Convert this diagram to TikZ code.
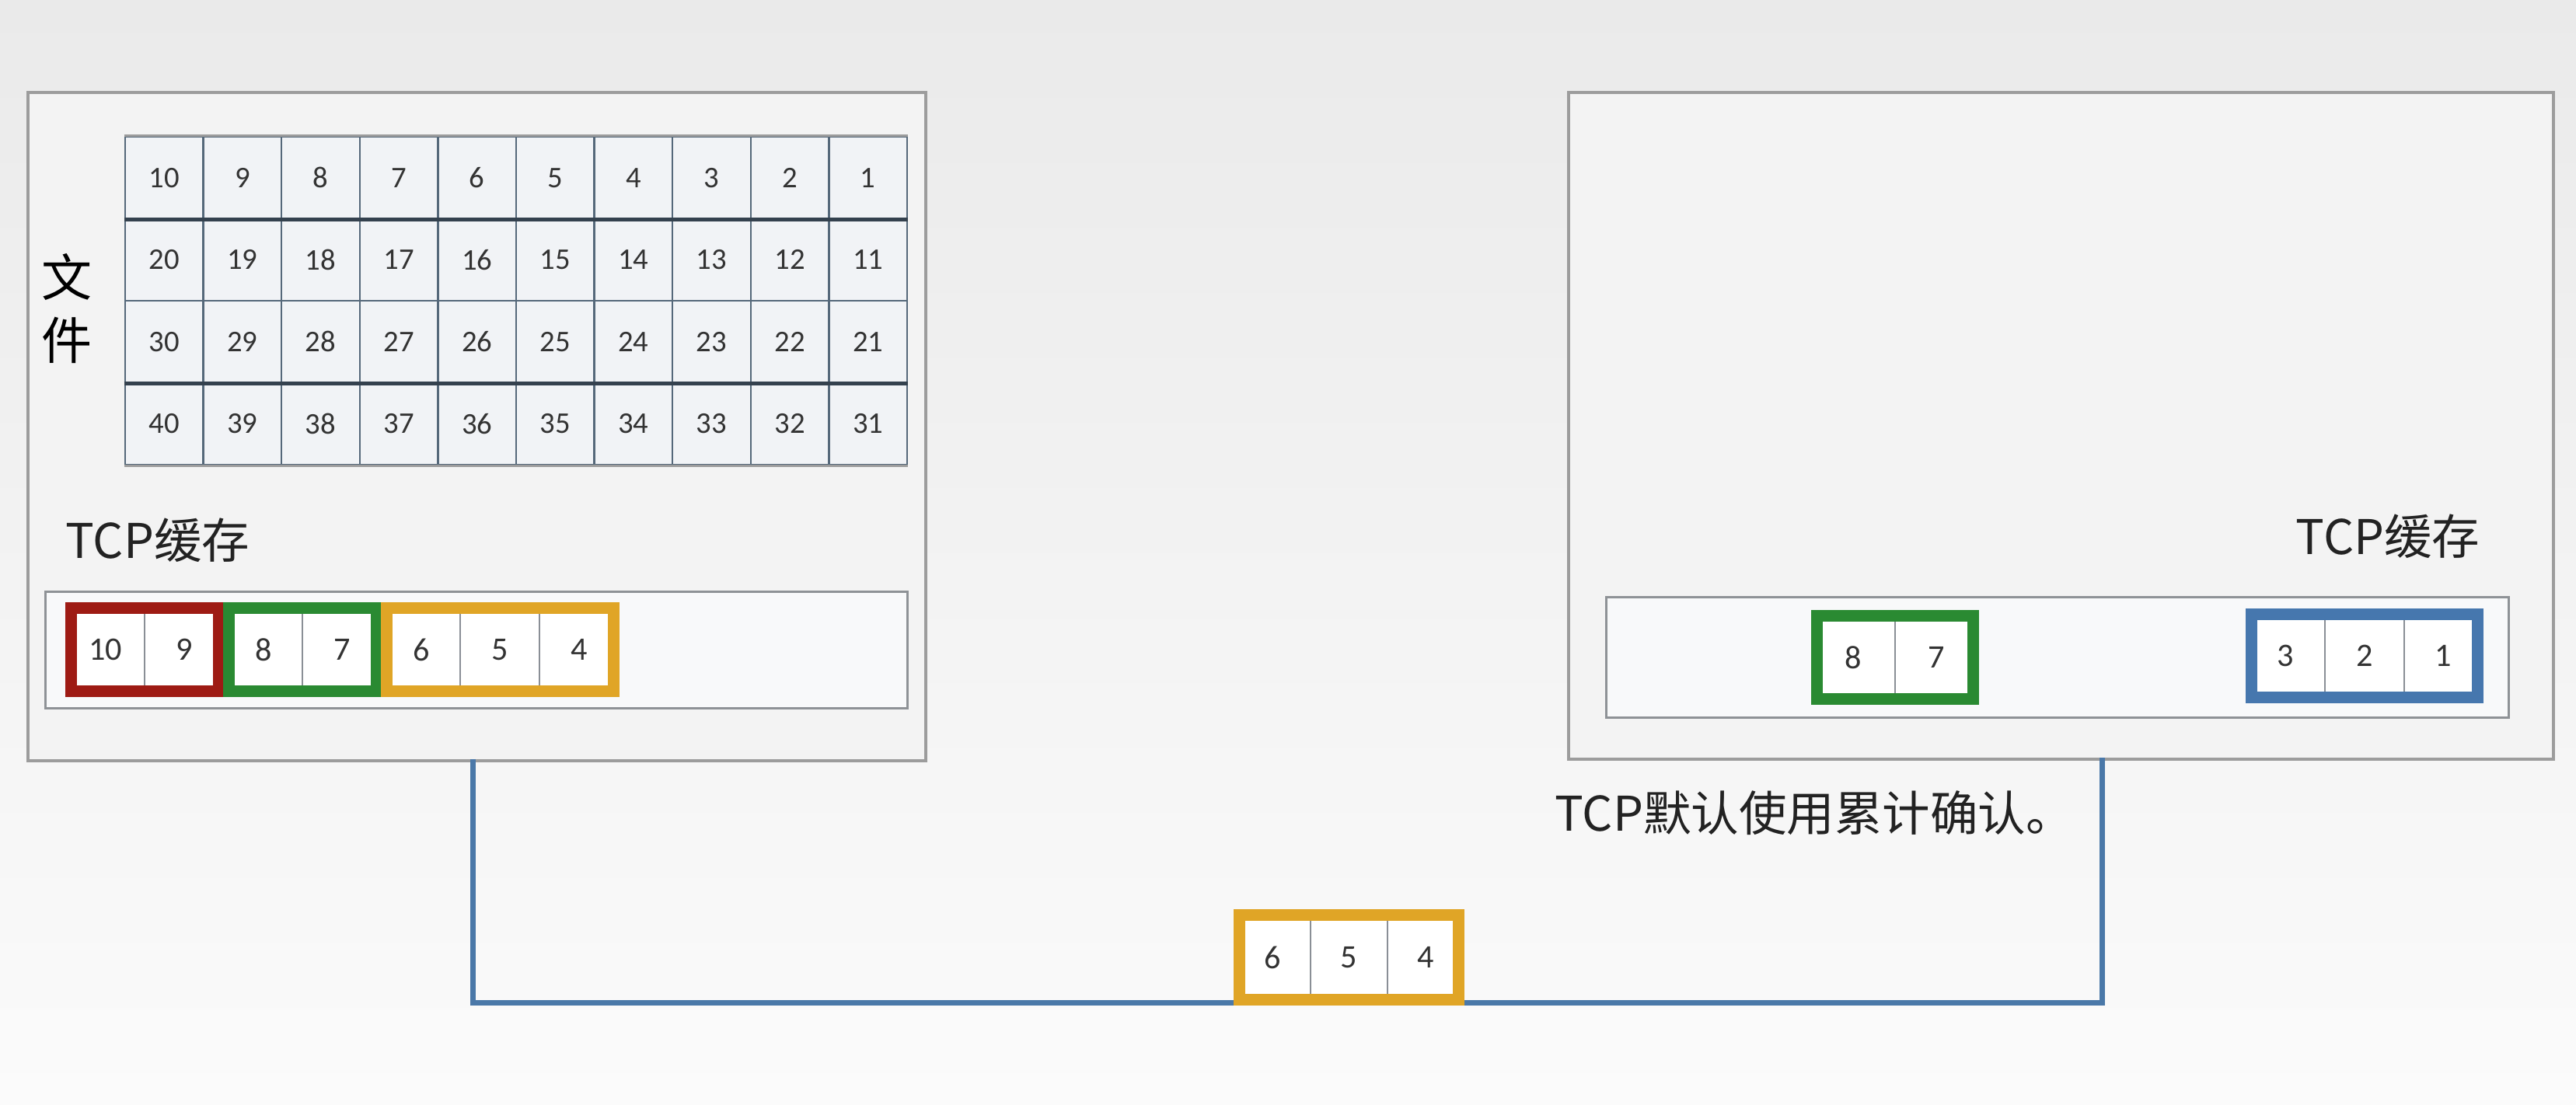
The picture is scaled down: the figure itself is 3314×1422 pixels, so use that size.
\documentclass[tikz,border=0pt]{standalone}
\usepackage{fontspec}
\setmainfont{Carlito}
\newfontfamily\cjk{Noto Sans CJK SC}
\definecolor{bgtop}{HTML}{EAEAEA}
\definecolor{bgbot}{HTML}{FBFBFB}
\definecolor{boxfill}{HTML}{F3F3F3}
\definecolor{boxline}{HTML}{9C9C9C}
\definecolor{buffill}{HTML}{F8F9FA}
\definecolor{bufline}{HTML}{8E9296}
\definecolor{gridline}{HTML}{55687A}
\definecolor{griddark}{HTML}{34414E}
\definecolor{cellfill}{HTML}{F1F3F6}
\definecolor{numcol}{HTML}{333333}
\definecolor{sepgray}{HTML}{8A8F96}
\definecolor{fred}{HTML}{9E1B14}
\definecolor{fgreen}{HTML}{2A8A32}
\definecolor{fyellow}{HTML}{E0A526}
\definecolor{fblue}{HTML}{4677AE}
\definecolor{wirecol}{HTML}{4A78A8}
\definecolor{txtcol}{HTML}{222222}
\begin{document}
\begin{tikzpicture}[x=0.01cm,y=-0.01cm,
  bigbox/.style={draw=boxline,line width=0.04cm,fill=boxfill},
  bufbox/.style={draw=bufline,line width=0.03cm,fill=buffill},
  gcell/.style={draw=gridline,line width=0.025cm,fill=cellfill,minimum width=1.006cm,minimum height=1.055cm,inner sep=0pt,font=\fontsize{11}{13}\selectfont,text=numcol},
  bcell/.style={draw=sepgray,line width=0.02cm,fill=white,minimum height=1.19cm,inner sep=0pt,font=\fontsize{12}{14}\selectfont,text=numcol},
  frame/.style={line width=0.15cm},
  wire/.style={draw=wirecol,line width=0.07cm},
  lbl/.style={font=\cjk\fontsize{17.5}{21}\selectfont,text=txtcol,inner sep=0pt}
]
\useasboundingbox (0,0) rectangle (3314,1422);
\shade[top color=bgtop,bottom color=bgbot] (0,0) rectangle (3314,1422);

% big boxes
\node[bigbox,anchor=north west,minimum width=11.54cm,minimum height=8.6cm,inner sep=0pt] (lbox) at (34,117) {};
\node[bigbox,anchor=north west,minimum width=12.66cm,minimum height=8.58cm,inner sep=0pt] (rbox) at (2016,117) {};

% file grid
\foreach \r in {0,...,3}{
  \foreach \c in {0,...,9}{
    \pgfmathtruncatemacro{\num}{10*(\r+1)-\c}
    \node[gcell] (g-\r-\c) at ({161+100.6*\c+50.3},{176+105.5*\r+52.75}) {\num};
  }
}
\draw[griddark,line width=0.05cm] (g-0-0.south west) -- (g-0-9.south east);
\draw[griddark,line width=0.05cm] (g-2-0.south west) -- (g-2-9.south east);
\draw[boxline,line width=0.035cm] (g-0-0.north west) -- (g-0-9.north east);
\draw[boxline,line width=0.035cm] (g-3-0.south west) -- (g-3-9.south east);

\node[lbl,align=center,font=\cjk\fontsize{18.5}{22.8}\selectfont,text=black] (file) at (86,397) {文\\件};

% left TCP buffer
\node[lbl,anchor=west] (ltcp) at (84,695) {TCP缓存};
\node[bufbox,anchor=north west,minimum width=11.08cm,minimum height=1.5cm,inner sep=0pt] (lbuf) at (57,760) {};
\foreach \i/\n in {0/10,1/9,2/8,3/7,4/6,5/5,6/4}{
  \node[bcell,minimum width=1.015cm] (l\i) at ({85+101.5*\i+50.75},836) {\n};
}
\draw[frame,fred] ([shift={(7.5,7.5)}]l0.north west) rectangle ([shift={(-7.5,-7.5)}]l1.south east);
\draw[frame,fgreen] ([shift={(7.5,7.5)}]l2.north west) rectangle ([shift={(-7.5,-7.5)}]l3.south east);
\draw[frame,fyellow] ([shift={(7.5,7.5)}]l4.north west) rectangle ([shift={(-7.5,-7.5)}]l6.south east);

% right TCP buffer
\node[lbl,anchor=east] (rtcp) at (3191,690) {TCP缓存};
\node[bufbox,anchor=north west,minimum width=11.6cm,minimum height=1.55cm,inner sep=0pt] (rbuf) at (2065,767) {};
\foreach \i/\n in {0/8,1/7}{
  \node[bcell,minimum width=1.07cm] (rg\i) at ({2331+107*\i+53.5},846) {\n};
}
\foreach \i/\n in {0/3,1/2,2/1}{
  \node[bcell,minimum width=1.013cm] (rb\i) at ({2890+101.3*\i+50.65},844) {\n};
}
\draw[frame,fgreen] ([shift={(7.5,7.5)}]rg0.north west) rectangle ([shift={(-7.5,-7.5)}]rg1.south east);
\draw[frame,fblue] ([shift={(7.5,7.5)}]rb0.north west) rectangle ([shift={(-7.5,-7.5)}]rb2.south east);

\node[lbl,anchor=west] (note) at (2000,1046) {TCP默认使用累计确认。};

% wire
\coordinate (wl) at (608,977);
\coordinate (wr) at (2704,975);
\coordinate (wb) at (0,1290);
\draw[wire] (wl) -- (wl |- wb) -- (wr |- wb) -- (wr);

% packet in transit
\foreach \i/\n in {0/6,1/5,2/4}{
  \node[bcell,minimum width=0.983cm,minimum height=1.21cm] (p\i) at ({1588+98.3*\i+49.15},1232) {\n};
}
\draw[frame,fyellow] ([shift={(7.5,7.5)}]p0.north west) rectangle ([shift={(-7.5,-7.5)}]p2.south east);
\end{tikzpicture}
\end{document}
